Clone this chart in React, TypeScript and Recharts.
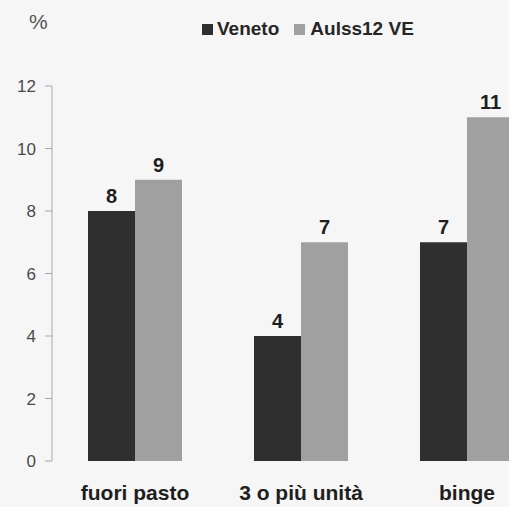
import { Bar, BarChart, LabelList, Legend, XAxis, YAxis } from 'recharts';

const categories = ['fuori pasto', '3 o più unità', 'binge'];
const veneto = [8, 4, 7];
const aulss12 = [9, 7, 11];
const yTicks = [0, 2, 4, 6, 8, 10, 12];

const data = categories.map((name, i) => ({
  name,
  Veneto: veneto[i],
  'Aulss12 VE': aulss12[i],
}));

const FONT = '"Liberation Sans", Arial, sans-serif';
const DARK = '#2f2f2f';
const GRAY = '#a0a0a0';

const CategoryTick = (props: any) => {
  const { x, y, payload } = props;
  return (
    <text
      x={x}
      y={y + 31}
      textAnchor="middle"
      fontFamily={FONT}
      fontSize={21}
      fontWeight="bold"
      fill="#1e1e1e"
    >
      {payload.value}
    </text>
  );
};

const LegendContent = () => (
  <div
    style={{
      display: 'flex',
      alignItems: 'center',
      fontFamily: FONT,
      fontSize: 19,
      fontWeight: 'bold',
      color: '#262626',
      whiteSpace: 'nowrap',
    }}
  >
    <span style={{ width: 11, height: 11, background: DARK, marginRight: 4 }} />
    <span style={{ marginRight: 15 }}>Veneto</span>
    <span style={{ width: 11, height: 11, background: GRAY, marginRight: 5 }} />
    <span>Aulss12 VE</span>
  </div>
);

const App = () => {
  return (
    <div
      style={{
        position: 'fixed',
        top: 0,
        left: 0,
        width: 509,
        height: 507,
        overflow: 'hidden',
        background: '#f6f6f6',
      }}
    >
      <BarChart
        width={550}
        height={507}
        data={data}
        margin={{ top: 86, right: 0, left: 0, bottom: 0 }}
        barGap={0}
        barSize={47}
      >
        <text x={29} y={29} fontFamily={FONT} fontSize={21} fill="#555">
          %
        </text>
        <Legend
          verticalAlign="middle"
          layout="horizontal"
          content={<LegendContent />}
          wrapperStyle={{ top: 18, left: 202, width: 'auto' }}
        />
        <XAxis
          dataKey="name"
          axisLine={false}
          tickLine={false}
          height={46}
          tick={<CategoryTick />}
          interval={0}
        />
        <YAxis
          width={52}
          domain={[0, 12]}
          ticks={yTicks}
          interval={0}
          axisLine={{ stroke: '#aaa' }}
          tickLine={{ stroke: '#aaa' }}
          tickSize={7}
          tickMargin={9}
          tick={{ fontFamily: FONT, fontSize: 17, fill: '#4a4a4a' }}
        />
        <Bar dataKey="Veneto" fill={DARK} isAnimationActive={false}>
          <LabelList
            dataKey="Veneto"
            position="top"
            offset={8}
            fill="#1e1e1e"
            fontFamily={FONT}
            fontSize={20}
            fontWeight="bold"
          />
        </Bar>
        <Bar dataKey="Aulss12 VE" fill={GRAY} isAnimationActive={false}>
          <LabelList
            dataKey="Aulss12 VE"
            position="top"
            offset={8}
            fill="#1e1e1e"
            fontFamily={FONT}
            fontSize={20}
            fontWeight="bold"
          />
        </Bar>
      </BarChart>
    </div>
  );
};

export default App;
